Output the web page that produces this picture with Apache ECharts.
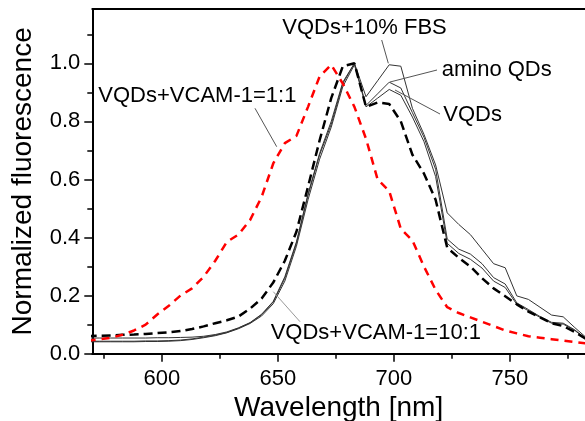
<!DOCTYPE html>
<html><head><meta charset="utf-8">
<script src="https://cdn.jsdelivr.net/npm/echarts@6/dist/echarts.min.js"></script>
<style>html,body{margin:0;padding:0;background:#fff}#c{width:585px;height:421px}</style>
</head><body><div id="c"></div>
<script>
// Wavelength grid (nm)
var wavelengths = [568,573,578,583,588,593,598,603,608,613,618,623,628,633,638,643,648,653,658,663,668,673,678,683,688,693,698,703,708,713,718,723,728,733,738,743,748,753,758,763,768,773,778,783];
// VQDs+VCAM-1=1:1 (red dashed)
var vcam11 = [0.045,0.05,0.055,0.065,0.08,0.10,0.135,0.165,0.20,0.225,0.265,0.32,0.385,0.41,0.46,0.54,0.655,0.725,0.75,0.85,0.955,0.995,0.93,0.85,0.74,0.60,0.56,0.43,0.39,0.30,0.22,0.16,0.14,0.125,0.11,0.095,0.08,0.07,0.06,0.055,0.05,0.045,0.04,0.035];
// VQDs+VCAM-1=10:1 (black dashed)
var vcam101 = [0.06,0.062,0.063,0.065,0.066,0.068,0.071,0.074,0.078,0.085,0.094,0.105,0.115,0.128,0.155,0.19,0.245,0.32,0.42,0.575,0.735,0.88,0.99,1.0,0.85,0.865,0.86,0.80,0.685,0.62,0.53,0.365,0.33,0.30,0.26,0.225,0.198,0.17,0.145,0.125,0.105,0.095,0.075,0.05];
// VQDs
var vqds = [0.041,0.041,0.041,0.041,0.041,0.042,0.042,0.043,0.045,0.049,0.055,0.062,0.072,0.086,0.104,0.13,0.172,0.25,0.37,0.53,0.67,0.78,0.92,0.995,0.85,0.88,0.91,0.89,0.815,0.73,0.61,0.38,0.345,0.325,0.295,0.25,0.228,0.17,0.148,0.125,0.105,0.102,0.08,0.05];
// amino QDs
var amino = [0.043,0.043,0.043,0.043,0.043,0.044,0.044,0.045,0.047,0.051,0.057,0.064,0.073,0.088,0.106,0.134,0.178,0.26,0.38,0.545,0.685,0.79,0.93,1.0,0.855,0.895,0.935,0.915,0.83,0.745,0.635,0.395,0.36,0.343,0.31,0.262,0.24,0.175,0.152,0.128,0.108,0.105,0.082,0.05];
// VQDs+10% FBS
var fbs = [0.054,0.054,0.054,0.054,0.054,0.054,0.055,0.055,0.056,0.057,0.060,0.066,0.075,0.089,0.107,0.136,0.18,0.265,0.385,0.55,0.69,0.80,0.935,1.0,0.885,0.94,0.995,0.99,0.845,0.755,0.65,0.485,0.445,0.41,0.36,0.31,0.296,0.199,0.187,0.16,0.133,0.127,0.09,0.055];
// tick values
var xMajorTicks = [600,650,700,750];
var xMinorTicks = [575,625,675,725,775];
var yMajorTicks = [0,0.2,0.4,0.6,0.8,1.0];
var yMinorTicks = [0.1,0.3,0.5,0.7,0.9,1.1];

var FONT = 'Liberation Sans, Arial, sans-serif';
function pairs(vals){ return wavelengths.map(function(x,i){ return [x, vals[i]]; }); }
var XMIN = 570, XMAX = 782.4, YMIN = 0, YMAX = 1.187;

var chart = echarts.init(document.getElementById('c'), null, {renderer:'canvas'});
function solid(name, vals){
  return {name:name, type:'line', data:pairs(vals), symbol:'none', clip:true,
    lineStyle:{color:'#333', width:1}, z:3};
}
var option = {
  animation:false,
  backgroundColor:'#fff',
  grid:{left:92.3, top:9, right:0, bottom:67.3, containLabel:false, outerBoundsMode:'none'},
  xAxis:[
    {type:'value', min:XMIN, max:XMAX, position:'bottom',
     name:'Wavelength [nm]', nameLocation:'middle', nameGap:36,
     nameTextStyle:{fontFamily:FONT, fontSize:28, color:'#000'},
     axisLine:{lineStyle:{color:'#000', width:2}},
     axisTick:{show:true, customValues:xMajorTicks, length:8, lineStyle:{color:'#000', width:1.5}},
     axisLabel:{customValues:xMajorTicks, fontFamily:FONT, fontSize:22, color:'#000', margin:14},
     splitLine:{show:false}},
    {type:'value', min:XMIN, max:XMAX, position:'bottom',
     axisLine:{show:false},
     axisTick:{show:true, customValues:xMinorTicks, length:5, lineStyle:{color:'#000', width:1.5}},
     axisLabel:{show:false}, splitLine:{show:false}},
    {type:'value', min:XMIN, max:XMAX, position:'top',
     axisLine:{lineStyle:{color:'#000', width:2}},
     axisTick:{show:false}, axisLabel:{show:false}, splitLine:{show:false}}
  ],
  yAxis:[
    {type:'value', min:YMIN, max:YMAX, position:'left',
     name:'Normalized fluorescence', nameLocation:'middle', nameGap:55,
     nameTextStyle:{fontFamily:FONT, fontSize:28, color:'#000'},
     axisLine:{show:true, lineStyle:{color:'#000', width:2}},
     axisTick:{show:true, customValues:yMajorTicks, length:8, lineStyle:{color:'#000', width:1.5}},
     axisLabel:{customValues:yMajorTicks, fontFamily:FONT, fontSize:22, color:'#000', margin:12,
       formatter:function(v){ return v.toFixed(1); }},
     splitLine:{show:false}},
    {type:'value', min:YMIN, max:YMAX, position:'left',
     axisLine:{show:false},
     axisTick:{show:true, customValues:yMinorTicks, length:5, lineStyle:{color:'#000', width:1.5}},
     axisLabel:{show:false}, splitLine:{show:false}}
  ],
  series:[
    solid('VQDs', vqds),
    solid('amino QDs', amino),
    solid('VQDs+10% FBS', fbs),
    {name:'VQDs+VCAM-1=10:1', type:'line', data:pairs(vcam101), symbol:'none', clip:true,
     lineStyle:{color:'#000', width:2.5, type:[9,5]}, z:4},
    {name:'VQDs+VCAM-1=1:1', type:'line', data:pairs(vcam11), symbol:'none', clip:true,
     lineStyle:{color:'#ff0000', width:2.5, type:[8,6]}, z:5}
  ],
  graphic:[
    {type:'line', shape:{x1:381.7,y1:40,x2:388.3,y2:63.3}, style:{stroke:'#555', lineWidth:1}, z:10},
    {type:'line', shape:{x1:437,y1:70,x2:390,y2:82}, style:{stroke:'#555', lineWidth:1}, z:10},
    {type:'line', shape:{x1:440,y1:114,x2:395,y2:90}, style:{stroke:'#555', lineWidth:1}, z:10},
    {type:'line', shape:{x1:255,y1:108.3,x2:276.7,y2:146.7}, style:{stroke:'#555', lineWidth:1}, z:10},
    {type:'line', shape:{x1:300,y1:321.7,x2:273.3,y2:291.7}, style:{stroke:'#999', lineWidth:1}, z:10},
    {type:'text', x:282.3, y:28, style:{text:'VQDs+10% FBS', font:'22px '+FONT, fill:'#000', verticalAlign:'middle', align:'left'}, z:11},
    {type:'text', x:441.7, y:69.5, style:{text:'amino QDs', font:'22px '+FONT, fill:'#000', verticalAlign:'middle', align:'left'}, z:11},
    {type:'text', x:443.3, y:115, style:{text:'VQDs', font:'22px '+FONT, fill:'#000', verticalAlign:'middle', align:'left'}, z:11},
    {type:'text', x:98.3, y:95.7, style:{text:'VQDs+VCAM-1=1:1', font:'22px '+FONT, fill:'#000', verticalAlign:'middle', align:'left'}, z:11},
    {type:'text', x:270.7, y:332.5, style:{text:'VQDs+VCAM-1=10:1', font:'22px '+FONT, fill:'#000', verticalAlign:'middle', align:'left'}, z:11}
  ]
};
chart.setOption(option);
</script></body></html>
